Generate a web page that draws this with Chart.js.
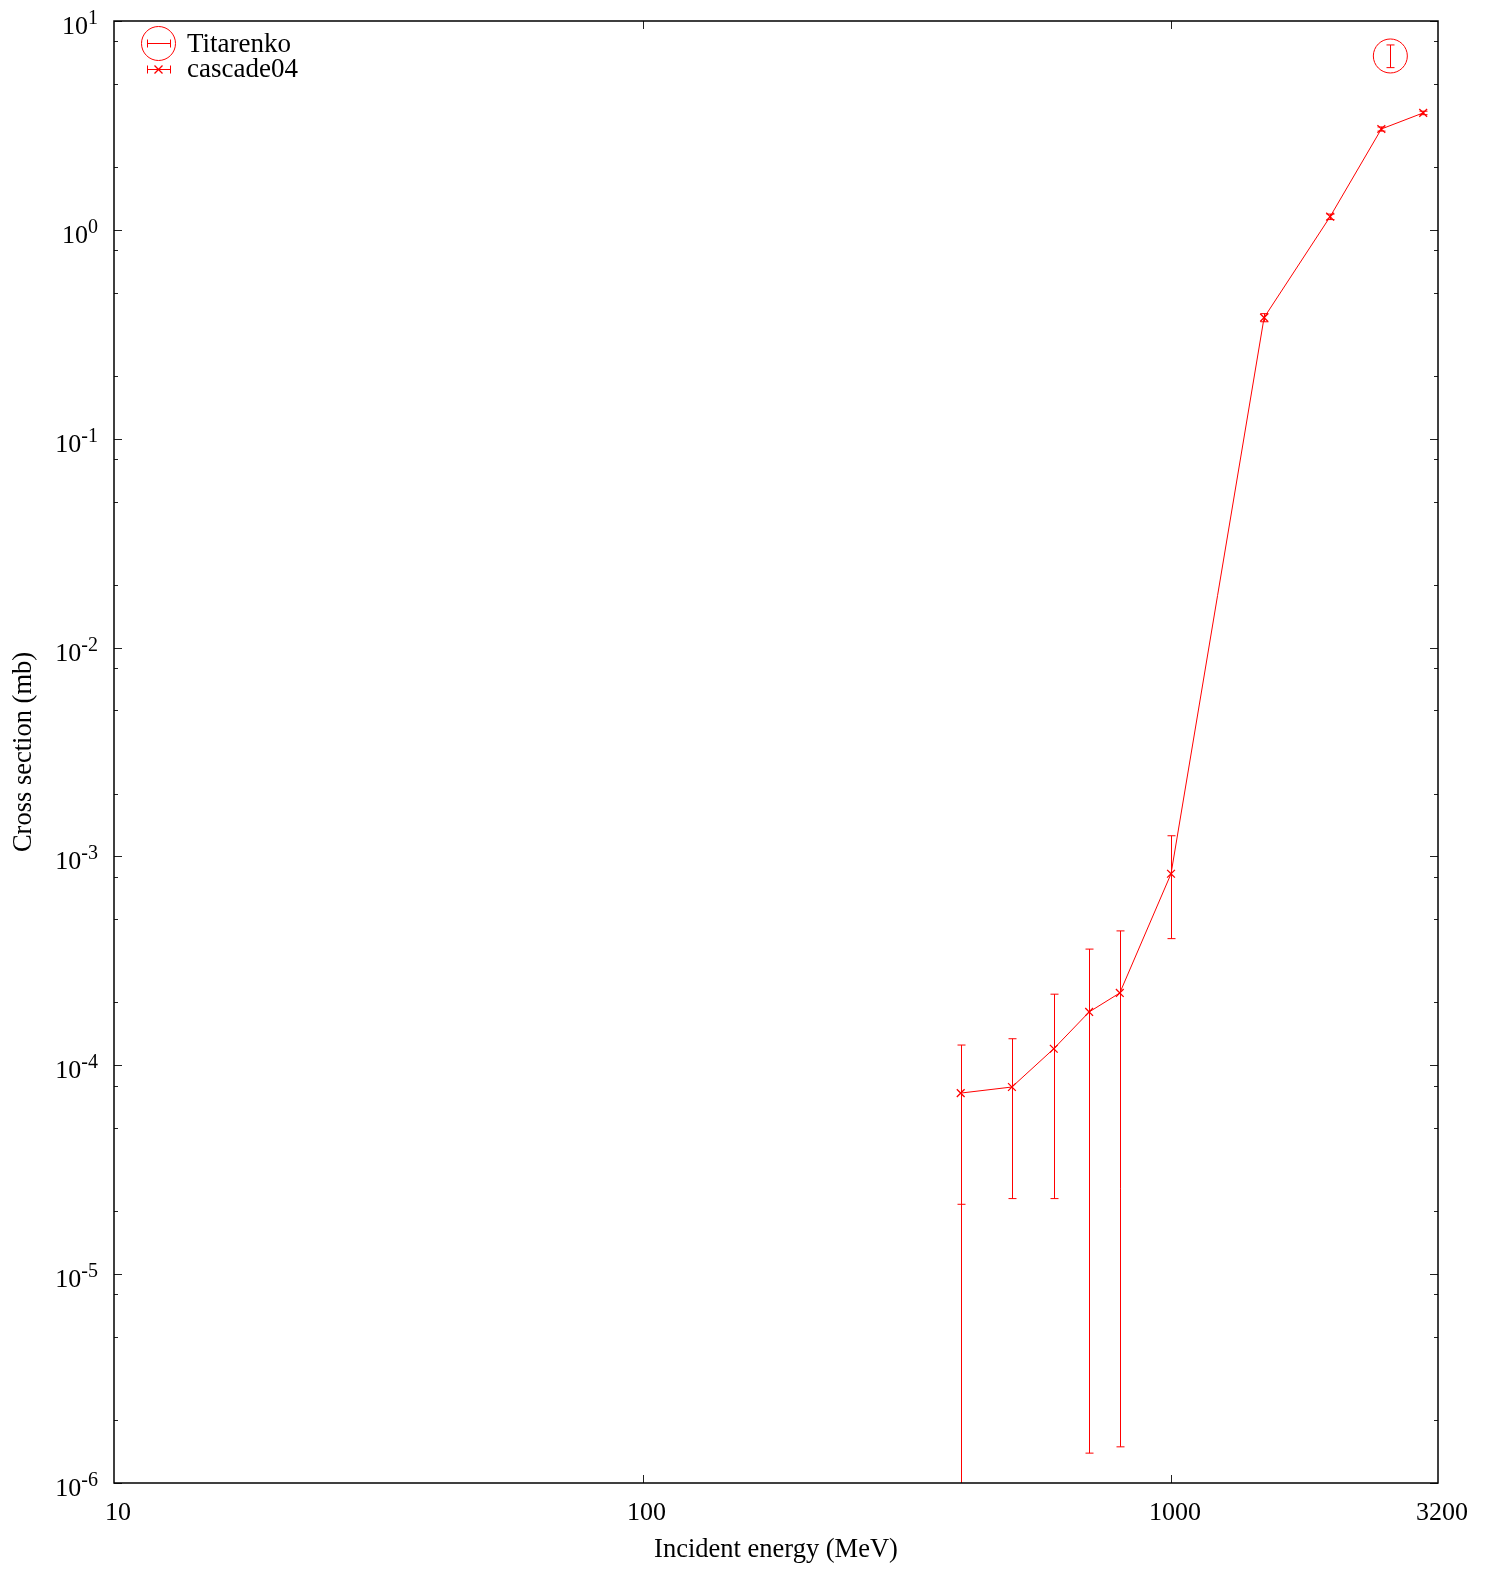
<!DOCTYPE html>
<html>
<head>
<meta charset="utf-8">
<script src="https://cdn.jsdelivr.net/npm/chart.js@4.4.1/dist/chart.umd.min.js"></script>
<style>
html, body { margin: 0; padding: 0; background: #fff; }
#wrap { width: 1492px; height: 1570px; }
</style>
</head>
<body>
<div id="wrap"><canvas id="chart"></canvas></div>
<script>
// cascade04 calculation
const energies = [400, 500, 600, 700, 800, 1000, 1500, 2000, 2500, 3000];
const cascadeValues = [7.36e-5, 7.87e-5, 1.20e-4, 1.80e-4, 2.22e-4, 8.26e-4, 0.38, 1.156, 3.04, 3.63];
const cascadeErrHigh = [1.25e-4, 1.34e-4, 2.19e-4, 3.60e-4, 4.40e-4, 1.256e-3, 0.397, 1.19, 3.11, 3.70];
const cascadeErrLow = [2.16e-5, 2.30e-5, 2.30e-5, 1.39e-6, 1.49e-6, 4.04e-4, 0.363, 1.12, 2.97, 3.56];
// first bar runs on past the bottom of the plot
const cascadeTailLow = [5e-7, null, null, null, null, null, null, null, null, null];

// Titarenko measurement
const titarenkoEnergy = [2600];
const titarenkoValues = [6.8];
const titarenkoErrHigh = [7.68];
const titarenkoErrLow = [5.98];

const xTickValues = [10, 100, 1000, 3200];
const xTickLabels = ['10', '100', '1000', '3200'];
const yDecades = [-6, -5, -4, -3, -2, -1, 0, 1];
const yMinorSteps = [2, 5, 8];

const RED = '#ff0000';
const FONT = '"Liberation Serif", "DejaVu Serif", serif';

function drawBars(ctx, xsc, ysc, xv, lo, hi, tail) {
    ctx.strokeStyle = RED;
    ctx.lineWidth = 1;
    for (let i = 0; i < xv.length; i++) {
        const x = Math.round(xsc.getPixelForValue(xv[i])) + 0.5;
        const yTop = ysc.getPixelForValue(hi[i]);
        const yLo = ysc.getPixelForValue(lo[i]);
        const yEnd = tail && tail[i] != null ? ysc.getPixelForValue(tail[i]) : yLo;
        ctx.beginPath();
        ctx.moveTo(x, yTop);
        ctx.lineTo(x, yEnd);
        ctx.moveTo(x - 4, yTop);
        ctx.lineTo(x + 4, yTop);
        ctx.moveTo(x - 4, yLo);
        ctx.lineTo(x + 4, yLo);
        ctx.stroke();
    }
}

const frame = {
    id: 'frame',
    afterDatasetsDraw(chart) {
        const ctx = chart.ctx;
        const a = chart.chartArea;
        const xs = chart.scales.x, ys = chart.scales.y;

        ctx.save();
        ctx.beginPath();
        ctx.rect(a.left, a.top, a.right - a.left, a.bottom - a.top);
        ctx.clip();
        drawBars(ctx, xs, ys, energies, cascadeErrLow, cascadeErrHigh, cascadeTailLow);
        drawBars(ctx, xs, ys, titarenkoEnergy, titarenkoErrLow, titarenkoErrHigh, null);
        ctx.restore();

        ctx.save();
        // ticks, inward on all sides
        ctx.strokeStyle = '#222';
        ctx.lineWidth = 1;
        ctx.beginPath();
        yDecades.forEach(d => {
            const y = Math.round(ys.getPixelForValue(Math.pow(10, d))) + 0.5;
            ctx.moveTo(a.left, y); ctx.lineTo(a.left + 8, y);
            ctx.moveTo(a.right, y); ctx.lineTo(a.right - 8, y);
            if (d < 1) {
                yMinorSteps.forEach(m => {
                    const ym = Math.round(ys.getPixelForValue(m * Math.pow(10, d))) + 0.5;
                    ctx.moveTo(a.left, ym); ctx.lineTo(a.left + 4, ym);
                    ctx.moveTo(a.right, ym); ctx.lineTo(a.right - 4, ym);
                });
            }
        });
        [100, 1000].forEach(v => {
            const x = Math.round(xs.getPixelForValue(v)) + 0.5;
            ctx.moveTo(x, a.bottom); ctx.lineTo(x, a.bottom - 8);
            ctx.moveTo(x, a.top); ctx.lineTo(x, a.top + 8);
        });
        ctx.stroke();

        // frame
        ctx.strokeStyle = '#000';
        ctx.lineWidth = 1.5;
        ctx.strokeRect(a.left, a.top, a.right - a.left, a.bottom - a.top);

        // tick labels
        ctx.fillStyle = '#000';
        ctx.textBaseline = 'alphabetic';
        ctx.textAlign = 'center';
        ctx.font = '26px ' + FONT;
        xTickValues.forEach((v, i) => {
            ctx.fillText(xTickLabels[i], xs.getPixelForValue(v) + 4, 1520);
        });
        yDecades.forEach(d => {
            const y = ys.getPixelForValue(Math.pow(10, d));
            const sup = String(d);
            ctx.font = '20px ' + FONT;
            const sw = ctx.measureText(sup).width;
            ctx.textAlign = 'left';
            ctx.fillText(sup, 98 - sw, y + 3);
            ctx.font = '26px ' + FONT;
            ctx.textAlign = 'right';
            ctx.fillText('10', 98 - sw, y + 13);
        });

        // axis titles
        ctx.font = '26.5px ' + FONT;
        ctx.textAlign = 'center';
        ctx.fillText('Incident energy (MeV)', (a.left + a.right) / 2, 1557);
        ctx.translate(31, (a.top + a.bottom) / 2);
        ctx.rotate(-Math.PI / 2);
        ctx.fillText('Cross section (mb)', 0, 0);
        ctx.restore();

        // legend
        ctx.save();
        ctx.strokeStyle = RED;
        ctx.lineWidth = 1;
        const rows = [43, 69];
        ctx.beginPath();
        rows.forEach(y => {
            const yy = y + 0.5;
            ctx.moveTo(147, yy); ctx.lineTo(171, yy);
            ctx.moveTo(147.5, yy - 4); ctx.lineTo(147.5, yy + 4);
            ctx.moveTo(170.5, yy - 4); ctx.lineTo(170.5, yy + 4);
        });
        ctx.stroke();
        ctx.beginPath();
        ctx.arc(158.5, 43.5, 17, 0, Math.PI * 2);
        ctx.stroke();
        ctx.lineWidth = 1.3;
        ctx.beginPath();
        ctx.moveTo(154.5, 65.5); ctx.lineTo(162.5, 73.5);
        ctx.moveTo(154.5, 73.5); ctx.lineTo(162.5, 65.5);
        ctx.stroke();
        ctx.fillStyle = '#000';
        ctx.font = '27px ' + FONT;
        ctx.textAlign = 'left';
        ctx.textBaseline = 'alphabetic';
        ctx.fillText(chart.data.datasets[0].label, 187, 52);
        ctx.fillText(chart.data.datasets[1].label, 187, 77);
        ctx.restore();
    }
};

new Chart(document.getElementById('chart'), {
    type: 'scatter',
    data: {
        datasets: [{
            label: 'Titarenko',
            data: titarenkoEnergy.map((x, i) => ({ x: x, y: titarenkoValues[i] })),
            showLine: false,
            pointStyle: 'circle',
            pointRadius: 17,
            pointBorderWidth: 1,
            borderColor: RED,
            backgroundColor: 'rgba(0,0,0,0)'
        }, {
            label: 'cascade04',
            data: energies.map((x, i) => ({ x: x, y: cascadeValues[i] })),
            showLine: true,
            borderColor: RED,
            borderWidth: 1,
            pointStyle: 'crossRot',
            pointRadius: 5.5,
            pointBorderWidth: 1.3,
            backgroundColor: RED
        }]
    },
    options: {
        responsive: true,
        maintainAspectRatio: false,
        animation: false,
        devicePixelRatio: 1,
        layout: { padding: { top: 21, right: 54, left: 0, bottom: 0 } },
        plugins: { legend: { display: false }, tooltip: { enabled: false } },
        scales: {
            x: {
                type: 'logarithmic',
                min: 10,
                max: 3200,
                grid: { display: false },
                border: { display: false },
                ticks: { display: false },
                afterFit: s => { s.height = 87; }
            },
            y: {
                type: 'logarithmic',
                min: 1e-6,
                max: 10,
                grid: { display: false },
                border: { display: false },
                ticks: { display: false },
                afterFit: s => { s.width = 114; }
            }
        }
    },
    plugins: [frame]
});
</script>
</body>
</html>
